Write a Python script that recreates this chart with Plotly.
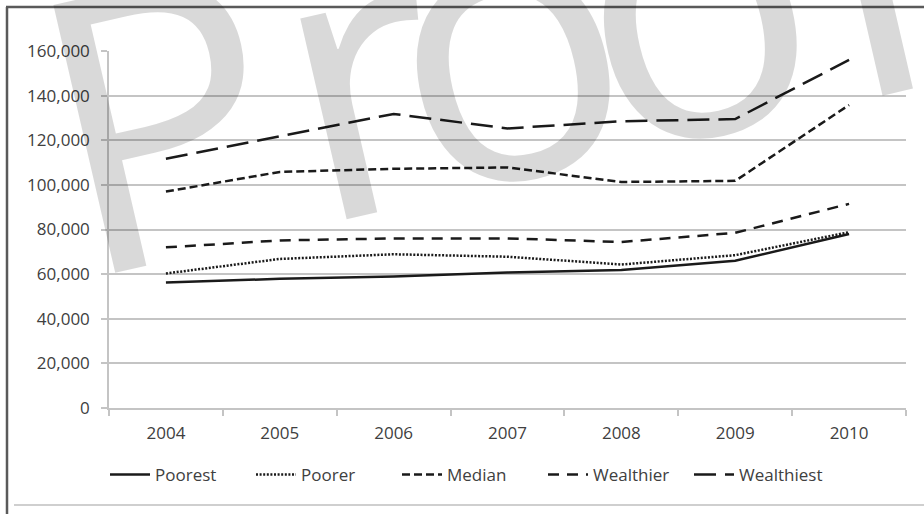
import math
import plotly.graph_objects as go

# Household income by wealth group, 2004-2010
years = ["2004", "2005", "2006", "2007", "2008", "2009", "2010"]
poorest = [56200, 57900, 58900, 60700, 61900, 66000, 78000]
poorer = [60300, 66800, 68900, 67800, 64300, 68500, 78800]
median = [97000, 105800, 107200, 107800, 101300, 101800, 135800]
wealthier = [72000, 75100, 76000, 76000, 74400, 78500, 91500]
wealthiest = [111700, 121800, 131800, 125300, 128500, 129500, 156000]

series_names = ["Poorest", "Poorer", "Median", "Wealthier", "Wealthiest"]
series_values = [poorest, poorer, median, wealthier, wealthiest]
series_dash = ["solid", "2px,1.6px", "8px,4px", "11px,8px", "22px,9px"]

y_ticks = [0, 20000, 40000, 60000, 80000, 100000, 120000, 140000, 160000]

W, H = 924, 514
L, R, T, B = 109, 18, 51, 106
pw, ph = W - L - R, H - T - B


def px_x(px):
    return (px - L) / pw


def px_y(py):
    return (H - B - py) / ph


FONT = "Open Sans"
TXT = "#404040"
GRID = "#c4c4c4"
FS = 17

fig = go.Figure()
for name, vals, dash in zip(series_names, series_values, series_dash):
    fig.add_trace(go.Scatter(
        x=years, y=vals, name=name, mode="lines",
        line=dict(color="#1a1a1a", width=2.5, dash=dash),
    ))

fig.update_layout(
    width=W, height=H,
    margin=dict(l=L, r=R, t=T, b=B, pad=0),
    paper_bgcolor="white", plot_bgcolor="white",
    font=dict(family=FONT, size=FS, color=TXT),
    showlegend=True,
    legend=dict(
        orientation="h", x=px_x(105), xanchor="left",
        y=px_y(475), yanchor="middle",
        font=dict(family=FONT, size=FS, color=TXT),
        itemwidth=40, tracegroupgap=0,
        entrywidth=91, entrywidthmode="pixels",
        bgcolor="rgba(0,0,0,0)",
    ),
    xaxis=dict(
        type="category", range=[-0.5, 6.5],
        showline=True, linecolor=GRID, linewidth=1.5,
        ticks="outside", tickson="boundaries", ticklen=6,
        tickcolor=GRID, tickwidth=1.5,
        showgrid=False, zeroline=False,
        ticklabelstandoff=9,
        tickfont=dict(family=FONT, size=FS, color=TXT),
    ),
    yaxis=dict(
        range=[0, 160000], tickvals=y_ticks, tickformat=",",
        showline=True, linecolor=GRID, linewidth=1.5,
        ticks="outside", ticklen=6, tickcolor=GRID, tickwidth=1.5,
        showgrid=True, gridcolor=GRID, gridwidth=1.5,
        zeroline=False,
        ticklabelstandoff=8,
        tickfont=dict(family=FONT, size=FS, color=TXT),
    ),
)

# Chart frame: dark left and top edges, light rule along the bottom
fig.add_shape(type="line", xref="paper", yref="paper",
              x0=px_x(7), x1=px_x(7), y0=px_y(7), y1=px_y(H + 5),
              line=dict(color="#5a5a5a", width=2.5))
fig.add_shape(type="line", xref="paper", yref="paper",
              x0=px_x(6), x1=px_x(W + 5), y0=px_y(7), y1=px_y(7),
              line=dict(color="#5a5a5a", width=2.5))
fig.add_shape(type="line", xref="paper", yref="paper",
              x0=px_x(14), x1=px_x(W + 5), y0=px_y(505), y1=px_y(505),
              line=dict(color="#cfcfcf", width=2))

# Large tilted "Proof" watermark, set letter by letter along a rising baseline
WM_SIZE = 385
WM_ANGLE = 13.0
base_x, base_y = 110, 265
ux, uy = math.cos(math.radians(WM_ANGLE)), -math.sin(math.radians(WM_ANGLE))
vx, vy = -math.sin(math.radians(WM_ANGLE)), -math.cos(math.radians(WM_ANGLE))
lift = 0.365 * WM_SIZE
wm_letters = ["P", "r", "o", "o", "f"]
wm_offsets = [82, 286, 436, 628, 824]
for ch, s in zip(wm_letters, wm_offsets):
    cx = base_x + s * ux + lift * vx
    cy = base_y + s * uy + lift * vy
    fig.add_annotation(
        text=ch, xref="paper", yref="paper",
        x=px_x(cx), y=px_y(cy), xanchor="center", yanchor="middle",
        showarrow=False, textangle=-WM_ANGLE,
        font=dict(family=FONT, size=WM_SIZE, color="rgba(0,0,0,0.15)"),
    )

fig.write_html("out.html")
